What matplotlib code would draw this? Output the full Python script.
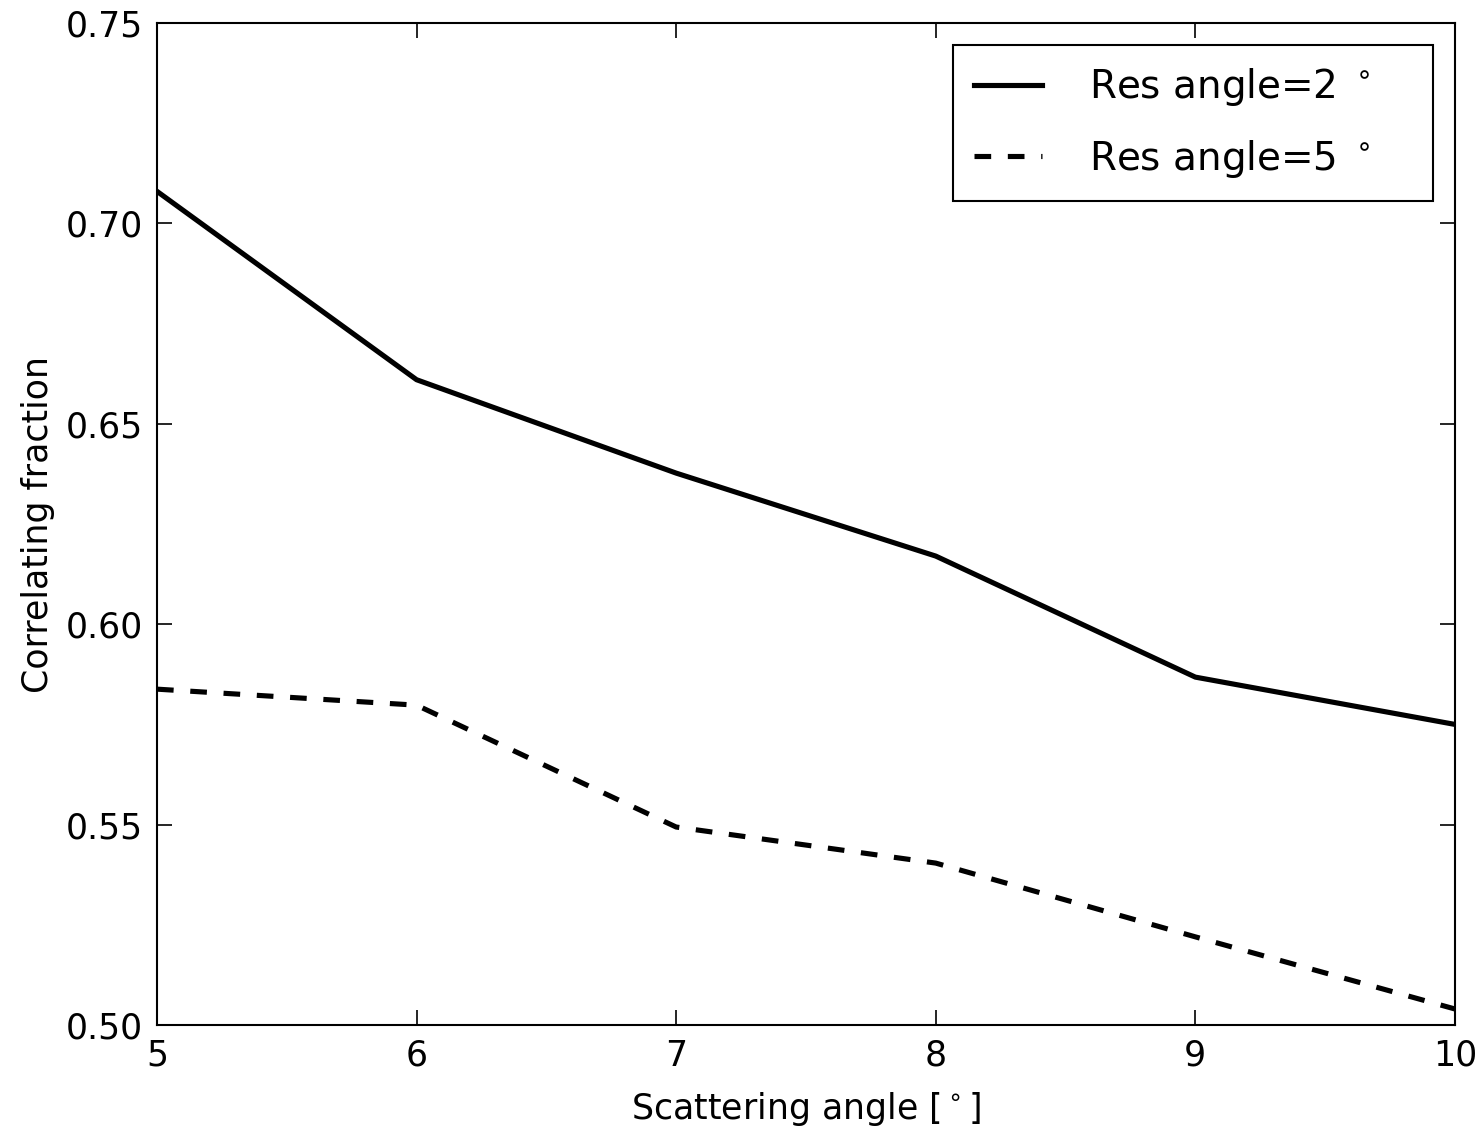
import matplotlib
matplotlib.use("Agg")
import matplotlib.pyplot as plt

scattering_angle = [5, 6, 7, 8, 9, 10]
res2 = [0.708, 0.661, 0.6377, 0.617, 0.5868, 0.575]
res5 = [0.5838, 0.5798, 0.5494, 0.5404, 0.522, 0.504]
labels = ["Res angle=2 $^\\circ$", "Res angle=5 $^\\circ$"]
xticks = [5, 6, 7, 8, 9, 10]
yticks = [0.50, 0.55, 0.60, 0.65, 0.70, 0.75]

plt.rcParams['font.family'] = ['DejaVu Sans']
plt.rcParams['mathtext.fontset'] = 'dejavusans'
plt.rcParams['lines.scale_dashes'] = False

fig = plt.figure(figsize=(14.81, 11.33), dpi=100)
ax = fig.add_axes([0.106, 0.0953, 0.8764, 0.8844])

ax.plot(scattering_angle, res2, color='black', lw=3.7, label=labels[0])
l2, = ax.plot(scattering_angle, res5, color='black', lw=3.7, ls='--', label=labels[1])
l2.set_dashes([12, 12])

ax.set_xlim(5, 10)
ax.set_ylim(0.50, 0.75)
ax.set_xticks(xticks)
ax.set_yticks(yticks)
ax.set_xticklabels([str(v) for v in xticks])
ax.set_yticklabels([f"{v:.2f}" for v in yticks])
ax.tick_params(direction='in', top=True, right=True, length=11, width=1.2,
               labelsize=25, pad=10)
for s in ax.spines.values():
    s.set_linewidth(1.5)

ax.set_xlabel("Scattering angle [$^\\circ$]", fontsize=25, labelpad=12)
ax.set_ylabel("Correlating fraction", fontsize=25, labelpad=8)

leg = ax.legend(loc='upper left', bbox_to_anchor=(0.6133, 0.978, 0.3698, 0.0),
                mode='expand', fontsize=28, fancybox=False, framealpha=1,
                edgecolor='black', borderpad=0.55, handlelength=1.75,
                handletextpad=1.2, labelspacing=0.75, borderaxespad=0.0)
leg.get_frame().set_linewidth(1.5)

fig.savefig("out.png", dpi=100)
